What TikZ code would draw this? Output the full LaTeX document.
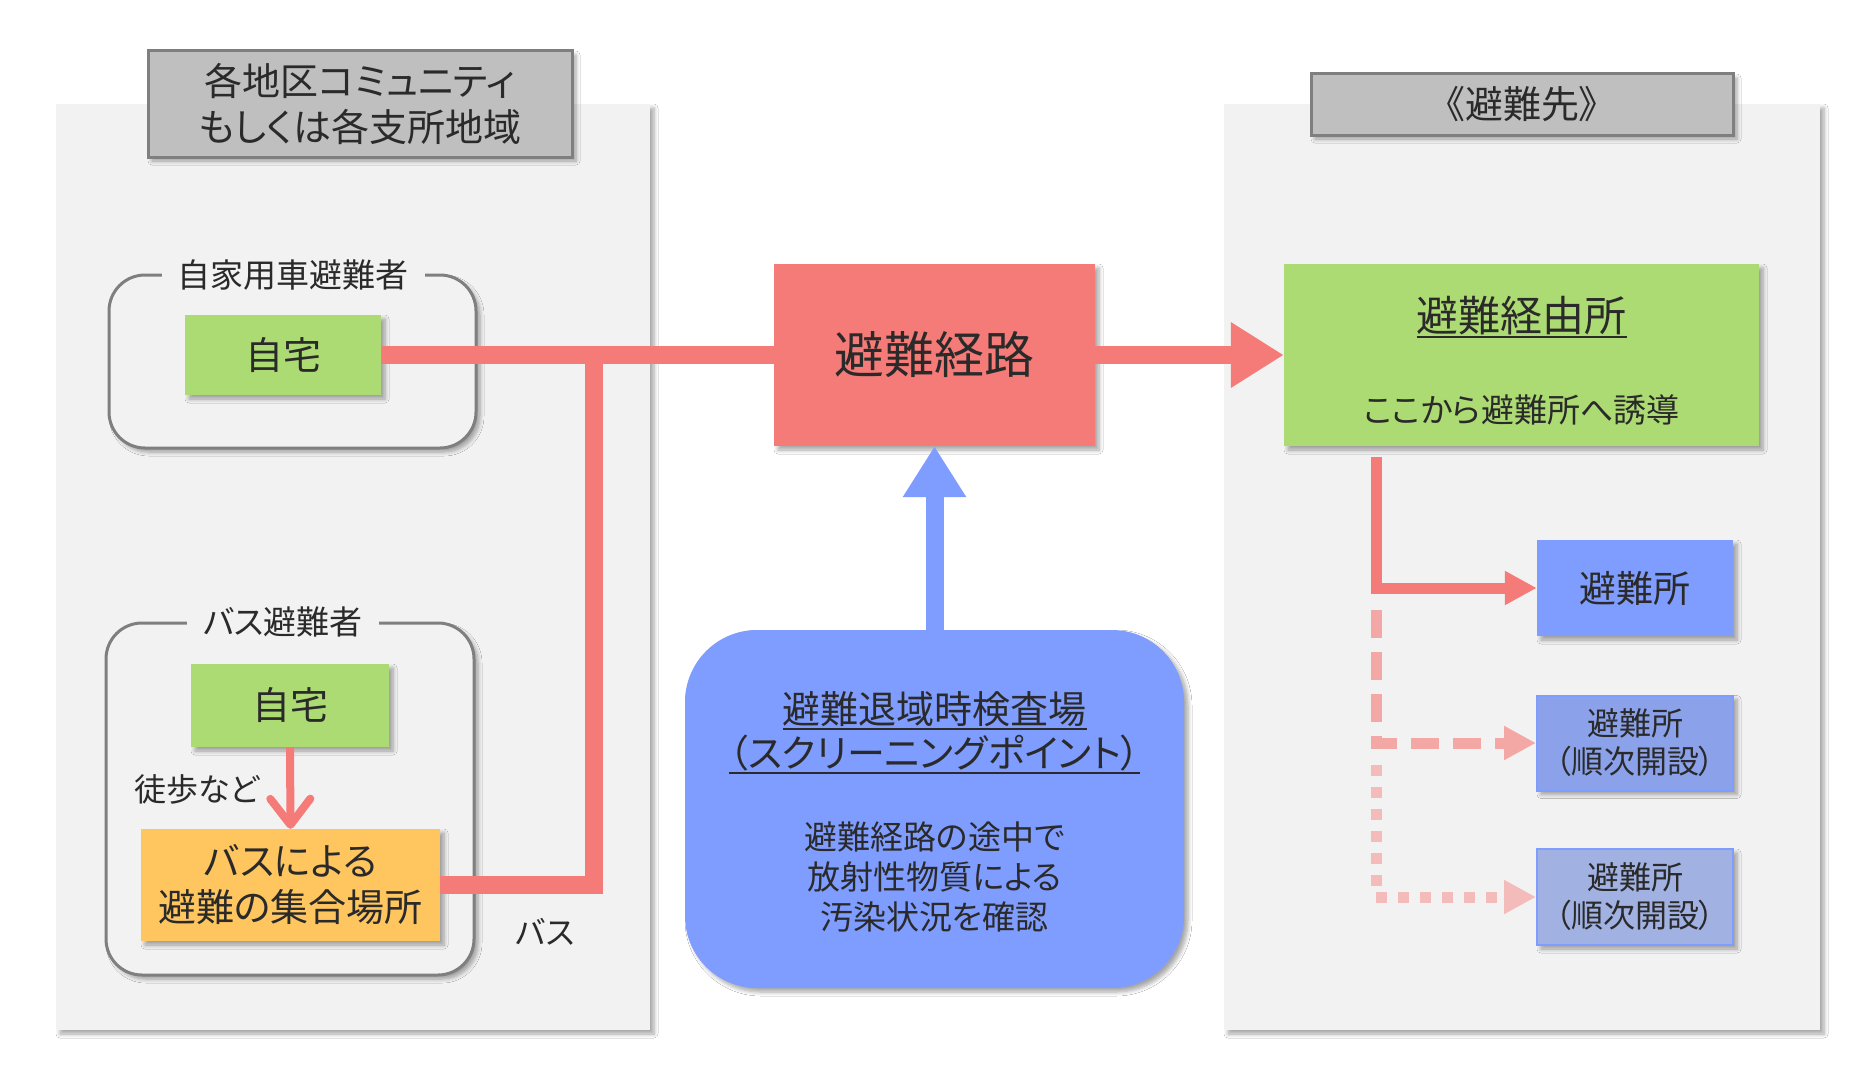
\documentclass[tikz,border=0pt]{standalone}
\usepackage{fontspec}
\setmainfont{Noto Sans CJK JP}[RawFeature=+palt]
\usetikzlibrary{arrows.meta,shadows.blur}
\definecolor{panel}{HTML}{F2F2F2}
\definecolor{titlegray}{HTML}{BFBFBF}
\definecolor{bordergray}{HTML}{7F7F7F}
\definecolor{routered}{HTML}{F47B78}
\definecolor{homegreen}{HTML}{ADDB73}
\definecolor{busorange}{HTML}{FFC65F}
\definecolor{shelterblue}{HTML}{7F9CFF}
\definecolor{shelterblueb}{HTML}{8BA2EA}
\definecolor{shelterbluec}{HTML}{A1B1E2}
\definecolor{txt}{HTML}{2A2A2A}
\colorlet{dashred}{routered!62!panel}
\colorlet{dotred}{routered!45!panel}
\newcommand\myul[1]{\setbox0\hbox{#1}\rlap{\rule[-7pt]{\wd0}{2pt}}\box0}
\newcommand\myfs[2]{\fontsize{#1}{#2}\selectfont}
\tikzset{
  shad/.style={blur shadow={shadow xshift=4pt,shadow yshift=-4pt,shadow blur radius=4pt,shadow blur steps=6,shadow opacity=35}},
  panelbox/.style={fill=panel,draw=none,shad,inner sep=0pt},
  titlebox/.style={fill=titlegray,draw=bordergray,line width=3pt,shad,inner sep=0pt,align=center,text=txt},
  grp/.style={draw=bordergray,line width=3pt,rounded corners=36pt,fill=panel,shad,inner sep=0pt},
  grplabel/.style={fill=panel,inner xsep=16pt,inner ysep=2pt,text=txt,font=\myfs{33}{36}},
  box/.style={inner sep=0pt,align=center,text=txt,shad},
  lbl/.style={inner sep=0pt,text=txt,align=center},
  redline/.style={draw=routered,line width=18pt},
  thinred/.style={line width=11pt,line join=miter},
  bigtip/.style={-{Triangle[length=53pt,width=62pt]}},
  smalltip/.style={-{Triangle[length=32pt,width=32pt]}},
}
\begin{document}
\begin{tikzpicture}[x=1pt,y=-1pt]
\useasboundingbox[fill=white] (0,0) rectangle (1875,1081);

% panels
\node[panelbox,minimum width=594pt,minimum height=926pt] (leftpanel) at (353,567) {};
\node[panelbox,minimum width=596pt,minimum height=926pt] (rightpanel) at (1522,567) {};

% titles
\node[titlebox,minimum width=424pt,minimum height=106pt,font=\myfs{38}{46}] (lefttitle) at (360,104) {各地区コミュニティ\\もしくは各支所地域};
\node[titlebox,minimum width=422pt,minimum height=61pt,font=\myfs{38}{42}] (righttitle) at (1522,104.5) {《避難先》};

% groups
\node[grp,minimum width=367pt,minimum height=173pt] (group1) at (292.5,361.5) {};
\node[grplabel] (g1label) at (293,275) {自家用車避難者};
\node[grp,minimum width=368pt,minimum height=352pt] (group2) at (290,799) {};
\node[grplabel] (g2label) at (283,622) {バス避難者};

% nodes
\node[box,fill=homegreen,minimum width=196pt,minimum height=80pt,font=\myfs{38}{44}] (home1) at (283,355) {自宅};
\node[box,fill=homegreen,minimum width=198pt,minimum height=83pt,font=\myfs{38}{44}] (home2) at (290,705.5) {自宅};
\node[box,fill=busorange,minimum width=299pt,minimum height=112pt,font=\myfs{38}{46}] (bus) at (290.5,885) {バスによる\\避難の集合場所};
\node[lbl,font=\myfs{32}{36}] (walk) at (197,789) {徒歩など};
\node[lbl,font=\myfs{32}{36}] (buslbl) at (545,932) {バス};

\node[box,fill=routered,minimum width=321pt,minimum height=182pt,font=\myfs{50}{56}] (route) at (934.5,355) {避難経路};

\node[box,fill=shelterblue,rounded corners=72pt,minimum width=499pt,minimum height=358pt] (screen) at (934.5,809) {};
\node[lbl,font=\myfs{38}{44}] (screentitle) at (934.5,733) {\myul{避難退域時検査場}\\\myul{（スクリーニングポイント）}};
\node[lbl,font=\myfs{33}{40}] (screenbody) at (934.5,877) {避難経路の途中で\\放射性物質による\\汚染状況を確認};

\node[box,fill=homegreen,minimum width=475pt,minimum height=182pt] (via) at (1521.5,355) {};
\node[lbl,font=\myfs{42}{48}] (vialabel) at (1521.5,317) {\myul{避難経由所}};
\node[lbl,font=\myfs{33}{38}] (vianote) at (1521.5,410) {ここから避難所へ誘導};

\node[box,fill=shelterblue,minimum width=196pt,minimum height=96pt,font=\myfs{37}{42}] (shelter1) at (1635,588) {避難所};
\node[box,fill=shelterblueb,draw=shelterblue,line width=2pt,minimum width=196pt,minimum height=95pt,font=\myfs{32}{38}] (shelter2) at (1635,743) {避難所\\（順次開設）};
\node[box,fill=shelterbluec,draw=shelterblue,line width=2pt,minimum width=196pt,minimum height=96pt,font=\myfs{32}{38}] (shelter3) at (1635,897) {避難所\\（順次開設）};

% connectors
\coordinate (junction) at (594,355);
\draw[redline] (home1.east) -- (route.west);
\draw[redline,line join=miter] (bus.east) -| (junction);
\draw[redline,bigtip] (route.east) -- (via.west);
\draw[draw=shelterblue,line width=18pt,-{Triangle[length=51pt,width=60pt]}] (screen.north) -- (route.south);
\draw[draw=routered,line width=8pt,-{Straight Barb[length=26pt,width=40pt,round]}] (home2.south) -- (bus.north);

\coordinate (Lstart) at (1376,457);
\coordinate (Dstart) at (1376,610);
\coordinate (Pstart) at (1376,765);
\draw[thinred,color=routered,smalltip] (Lstart) |- (shelter1.west);
\draw[thinred,color=dashred,smalltip,dash pattern=on 28pt off 14pt] (Dstart) |- (shelter2.west);
\draw[thinred,color=dotred,smalltip,dash pattern=on 11pt off 11pt] (Pstart) |- (shelter3.west);
\end{tikzpicture}
\end{document}
